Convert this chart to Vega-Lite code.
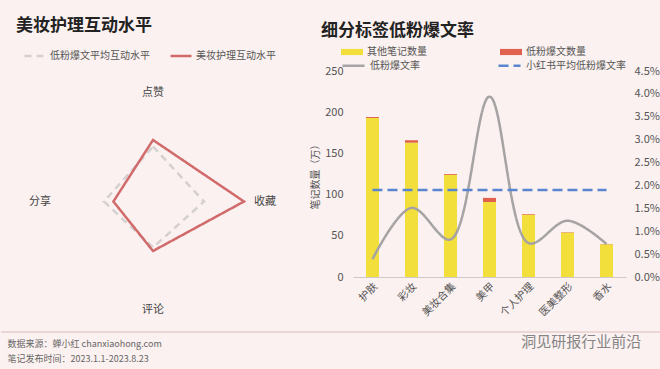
{
  "$schema": "https://vega.github.io/schema/vega-lite/v6.json",
  "background": "#fbf1f0",
  "padding": {"left": 0, "top": 17, "right": 0, "bottom": 0},
  "spacing": 1,
  "config": {
    "font": "Noto Sans CJK SC",
    "view": {"stroke": null},
    "concat": {"spacing": 0}
  },
  "datasets": {
    "radar": [
      {"series": "低粉爆文平均互动水平", "axis": "点赞", "value": 55},
      {"series": "低粉爆文平均互动水平", "axis": "收藏", "value": 51},
      {"series": "低粉爆文平均互动水平", "axis": "评论", "value": 46},
      {"series": "低粉爆文平均互动水平", "axis": "分享", "value": 49},
      {"series": "美妆护理互动水平", "axis": "点赞", "value": 61.5},
      {"series": "美妆护理互动水平", "axis": "收藏", "value": 91},
      {"series": "美妆护理互动水平", "axis": "评论", "value": 49.5},
      {"series": "美妆护理互动水平", "axis": "分享", "value": 39.6}
    ],
    "radarLabels": [
      {"axis": "点赞"},
      {"axis": "收藏"},
      {"axis": "评论"},
      {"axis": "分享"}
    ],
    "bars": [
      {"category": "护肤", "type": "其他笔记数量", "count": 193},
      {"category": "护肤", "type": "低粉爆文数量", "count": 1.2},
      {"category": "彩妆", "type": "其他笔记数量", "count": 163},
      {"category": "彩妆", "type": "低粉爆文数量", "count": 3},
      {"category": "美妆合集", "type": "其他笔记数量", "count": 124},
      {"category": "美妆合集", "type": "低粉爆文数量", "count": 1},
      {"category": "美甲", "type": "其他笔记数量", "count": 91},
      {"category": "美甲", "type": "低粉爆文数量", "count": 5},
      {"category": "个人护理", "type": "其他笔记数量", "count": 75.5},
      {"category": "个人护理", "type": "低粉爆文数量", "count": 0.8},
      {"category": "医美整形", "type": "其他笔记数量", "count": 53.8},
      {"category": "医美整形", "type": "低粉爆文数量", "count": 0.5},
      {"category": "香水", "type": "其他笔记数量", "count": 39.6},
      {"category": "香水", "type": "低粉爆文数量", "count": 0.5}
    ],
    "lines": [
      {"category": "护肤", "series": "低粉爆文率", "rate": 0.0039},
      {"category": "彩妆", "series": "低粉爆文率", "rate": 0.0151},
      {"category": "美妆合集", "series": "低粉爆文率", "rate": 0.0082},
      {"category": "美甲", "series": "低粉爆文率", "rate": 0.0394},
      {"category": "个人护理", "series": "低粉爆文率", "rate": 0.0074},
      {"category": "医美整形", "series": "低粉爆文率", "rate": 0.0123},
      {"category": "香水", "series": "低粉爆文率", "rate": 0.0072},
      {"category": "护肤", "series": "小红书平均低粉爆文率", "rate": 0.019},
      {"category": "彩妆", "series": "小红书平均低粉爆文率", "rate": 0.019},
      {"category": "美妆合集", "series": "小红书平均低粉爆文率", "rate": 0.019},
      {"category": "美甲", "series": "小红书平均低粉爆文率", "rate": 0.019},
      {"category": "个人护理", "series": "小红书平均低粉爆文率", "rate": 0.019},
      {"category": "医美整形", "series": "小红书平均低粉爆文率", "rate": 0.019},
      {"category": "香水", "series": "小红书平均低粉爆文率", "rate": 0.019}
    ]
  },
  "resolve": {"scale": {"x": "independent", "y": "independent", "stroke": "independent", "strokeDash": "independent", "fill": "independent"}, "legend": {"stroke": "independent", "strokeDash": "independent", "fill": "independent"}},
  "vconcat": [
    {
      "spacing": 9,
      "resolve": {"scale": {"x": "independent", "y": "independent", "stroke": "independent", "strokeDash": "independent", "fill": "independent"}, "legend": {"stroke": "independent", "strokeDash": "independent", "fill": "independent"}},
      "hconcat": [
        {
          "width": 300,
          "height": 259,
          "title": {"text": "美妆护理互动水平", "anchor": "start", "frame": "group", "dx": 15, "offset": 9, "fontSize": 17, "fontWeight": "bold", "color": "#222222"},
          "layer": [
            {
              "data": {"name": "radar"},
              "transform": [
                {"calculate": "indexof(['点赞','收藏','评论','分享'], datum.axis)", "as": "idx"},
                {"calculate": "datum.axis === '收藏' ? datum.value : (datum.axis === '分享' ? -datum.value : 0)", "as": "px"},
                {"calculate": "datum.axis === '点赞' ? datum.value : (datum.axis === '评论' ? -datum.value : 0)", "as": "py"}
              ],
              "mark": {"type": "line", "interpolate": "linear-closed", "strokeWidth": 2.5},
              "encoding": {
                "x": {"field": "px", "type": "quantitative", "scale": {"domain": [-152, 148], "nice": false, "zero": false}, "axis": null},
                "y": {"field": "py", "type": "quantitative", "scale": {"domain": [-128.5, 130.5], "nice": false, "zero": false}, "axis": null},
                "order": {"field": "idx", "type": "quantitative"},
                "stroke": {
                  "field": "series", "type": "nominal",
                  "scale": {"domain": ["低粉爆文平均互动水平", "美妆护理互动水平"], "range": ["#d4d0cf", "#d16a6b"]},
                  "legend": {"title": null, "orient": "none", "legendX": 22, "legendY": -27, "direction": "horizontal", "symbolType": "stroke", "symbolSize": 440, "symbolStrokeWidth": 2.5, "labelFontSize": 10, "labelColor": "#555555", "columnPadding": 15, "labelOffset": 3}
                },
                "strokeDash": {
                  "field": "series", "type": "nominal",
                  "scale": {"domain": ["低粉爆文平均互动水平", "美妆护理互动水平"], "range": [[7, 5], [1, 0]]},
                  "legend": {"title": null, "orient": "none", "legendX": 22, "legendY": -27, "direction": "horizontal", "symbolType": "stroke", "symbolSize": 440, "symbolStrokeWidth": 2.5, "labelFontSize": 10, "labelColor": "#555555", "columnPadding": 15, "labelOffset": 3}
                }
              }
            },
            {
              "data": {"name": "radarLabels"},
              "transform": [
                {"calculate": "datum.axis === '收藏' ? 112 : (datum.axis === '分享' ? -113 : 0)", "as": "lx"},
                {"calculate": "datum.axis === '点赞' ? 109 : (datum.axis === '评论' ? -108 : 0)", "as": "ly"}
              ],
              "mark": {"type": "text", "fontSize": 11, "color": "#444444"},
              "encoding": {
                "x": {"field": "lx", "type": "quantitative"},
                "y": {"field": "ly", "type": "quantitative"},
                "text": {"field": "axis"}
              }
            }
          ]
        },
        {
          "width": 273,
          "height": 206,
          "title": {"text": "细分标签低粉爆文率", "anchor": "start", "frame": "group", "dx": -32, "offset": 1, "fontSize": 17, "fontWeight": "bold", "color": "#222222"},
          "layer": [
            {
              "data": {"name": "bars"},
              "mark": {"type": "bar"},
              "encoding": {
                "x": {
                  "field": "category", "type": "nominal",
                  "sort": ["护肤", "彩妆", "美妆合集", "美甲", "个人护理", "医美整形", "香水"],
                  "scale": {"paddingInner": 0.667, "paddingOuter": 0.333},
                  "axis": {"title": null, "labelAngle": -45, "ticks": false, "domainColor": "#cfc9c8", "labelFontSize": 10.5, "labelColor": "#555555", "labelPadding": 4}
                },
                "y": {
                  "field": "count", "type": "quantitative", "stack": "zero",
                  "scale": {"domain": [0, 250], "nice": false},
                  "axis": {"values": [0, 50, 100, 150, 200, 250], "grid": false, "domain": false, "ticks": false, "title": "笔记数量（万）", "titleFontSize": 10, "titleFontWeight": "normal", "titleColor": "#555555", "titlePadding": 4, "labelPadding": 10, "labelFontSize": 11, "labelColor": "#555555"}
                },
                "fill": {
                  "field": "type", "type": "nominal",
                  "scale": {"domain": ["其他笔记数量", "低粉爆文数量"], "range": ["#f2df3c", "#e0614e"]},
                  "legend": {"title": null, "orient": "none", "legendX": -12, "legendY": -30, "direction": "horizontal", "columns": 2, "columnPadding": 73, "symbolType": "M -1 -0.28 L 1 -0.28 L 1 0.28 L -1 0.28 Z", "symbolSize": 484, "symbolStrokeWidth": 0, "labelFontSize": 10, "labelColor": "#555555", "labelOffset": 4}
                },
                "order": {"field": "type", "sort": "descending"}
              }
            },
            {
              "data": {"name": "lines"},
              "mark": {"type": "line", "interpolate": "catmull-rom", "strokeWidth": 2.5},
              "encoding": {
                "x": {"field": "category", "type": "nominal", "sort": ["护肤", "彩妆", "美妆合集", "美甲", "个人护理", "医美整形", "香水"]},
                "y": {
                  "field": "rate", "type": "quantitative",
                  "scale": {"domain": [0, 0.045], "nice": false},
                  "axis": {"orient": "right", "format": ".1%", "values": [0, 0.005, 0.01, 0.015, 0.02, 0.025, 0.03, 0.035, 0.04, 0.045], "grid": false, "domain": false, "ticks": false, "title": null, "labelPadding": 8, "labelFontSize": 11, "labelColor": "#555555"}
                },
                "stroke": {
                  "field": "series", "type": "nominal",
                  "scale": {"domain": ["低粉爆文率", "小红书平均低粉爆文率"], "range": ["#a5a3a3", "#5a86cf"]},
                  "legend": {"title": null, "orient": "none", "legendX": -12, "legendY": -18, "direction": "horizontal", "columns": 2, "columnPadding": 73, "symbolType": "stroke", "symbolSize": 484, "symbolStrokeWidth": 2.5, "labelFontSize": 10, "labelColor": "#555555", "labelOffset": 4}
                },
                "strokeDash": {
                  "field": "series", "type": "nominal",
                  "scale": {"domain": ["低粉爆文率", "小红书平均低粉爆文率"], "range": [[1, 0], [10, 5]]},
                  "legend": {"title": null, "orient": "none", "legendX": -12, "legendY": -18, "direction": "horizontal", "columns": 2, "columnPadding": 73, "symbolType": "stroke", "symbolSize": 484, "symbolStrokeWidth": 2.5, "labelFontSize": 10, "labelColor": "#555555", "labelOffset": 4}
                }
              }
            }
          ],
          "resolve": {"scale": {"y": "independent"}}
        }
      ]
    },
    {
      "width": 660,
      "height": 41,
      "data": {"values": [{}]},
      "layer": [
        {
          "mark": {"type": "rule", "color": "#d9bdbb", "strokeWidth": 1},
          "encoding": {"y": {"datum": 1, "type": "quantitative", "scale": {"domain": [0, 1], "nice": false}, "axis": null}}
        },
        {
          "mark": {"type": "text", "text": "数据来源：蝉小红 chanxiaohong.com", "align": "left", "fontSize": 9, "color": "#666666"},
          "encoding": {
            "x": {"datum": 0.01, "type": "quantitative", "scale": {"domain": [0, 1], "nice": false}, "axis": null},
            "y": {"datum": 0.71, "type": "quantitative"}
          }
        },
        {
          "mark": {"type": "text", "text": "笔记发布时间：2023.1.1-2023.8.23", "align": "left", "fontSize": 9, "color": "#666666"},
          "encoding": {
            "x": {"datum": 0.01, "type": "quantitative"},
            "y": {"datum": 0.34, "type": "quantitative"}
          }
        },
        {
          "mark": {"type": "text", "text": "洞见研报行业前沿", "align": "right", "fontSize": 15, "color": "#858585"},
          "encoding": {
            "x": {"datum": 0.97, "type": "quantitative"},
            "y": {"datum": 0.75, "type": "quantitative"}
          }
        }
      ]
    }
  ]
}
